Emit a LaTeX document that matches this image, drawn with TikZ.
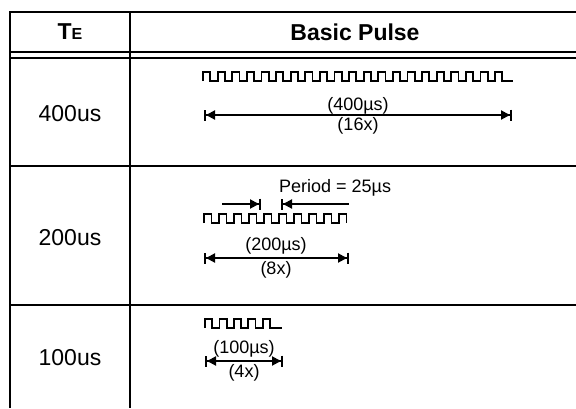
\documentclass[tikz,border=0pt]{standalone}
\usepackage{fontspec}
\setmainfont{Liberation Sans}
\usetikzlibrary{arrows.meta}
\begin{document}
\begin{tikzpicture}[x=1pt,y=-1pt,
  grid/.style={line width=2pt},
  pulse/.style={line width=1.8pt, line join=miter},
  dim/.style={line width=2pt, {Bar[width=11pt]Triangle[length=9pt,width=9pt]}-{Triangle[length=9pt,width=9pt]Bar[width=11pt]}},
  perL/.style={line width=2pt, -{Triangle[length=9pt,width=9pt]Bar[width=11pt]}},
  perR/.style={line width=2pt, {Bar[width=11pt]Triangle[length=9pt,width=9pt]}-},
  lab/.style={font=\fontsize{23}{26}\selectfont, inner sep=0pt},
  small/.style={font=\fontsize{18}{20}\selectfont, inner sep=0pt},
  hdr/.style={font=\bfseries\fontsize{23}{26}\selectfont, inner sep=0pt}]
\useasboundingbox (0,0) rectangle (576,408);
% table
\draw[grid] (10,408) |- (577,12);
\draw[grid] (130,12) -- (130,408);
\draw[grid] (10,52) -- (577,52);
\draw[grid] (10,58) -- (577,58);
\draw[grid] (10,166) -- (577,166);
\draw[grid] (10,305) -- (577,305);
% headers
\node[hdr] (hte) at (70,32) {T\fontsize{16}{18}\selectfont E};
\node[hdr] (hbp) at (355,32) {Basic Pulse};
% row labels
\node[lab] (t400) at (70,114) {400us};
\node[lab] (t200) at (70,238) {200us};
\node[lab] (t100) at (70,358) {100us};
% pulse trains
\draw[pulse] (203,81) \foreach \i in {1,...,21}{ -- ++(0,-9) -- ++(7.3,0) -- ++(0,9) -- ++(7.3,0)} -- (513,81);
\draw[pulse] (204,223) \foreach \i in {1,...,9}{ -- ++(0,-9) -- ++(7.5,0) -- ++(0,9) -- ++(7.5,0)} -- ++(0,-9) -- ++(7.5,0) -- ++(0,9);
\draw[pulse] (205,328) \foreach \i in {1,...,4}{ -- ++(0,-9) -- ++(7.2,0) -- ++(0,9) -- ++(7.2,0)} -- ++(0,-9) -- ++(7.2,0) -- ++(0,9) -- (282,328);
% 400 row dimension
\coordinate (a4l) at (204,115);
\coordinate (a4r) at (512,115);
\draw[dim] (a4l) -- (a4r);
\node[small] (l4a) at (358,106) {(400µs)};
\node[small] (l4b) at (358,126) {(16x)};
% 200 row
\coordinate (p1s) at (222,204);
\coordinate (p1e) at (261,204);
\draw[perL] (p1s) -- (p1e);
\coordinate (p2s) at (281,204);
\coordinate (p2e) at (349,204);
\draw[perR] (p2s) -- (p2e);
\node[small, anchor=west] (per) at (279,188) {Period = 25µs};
\coordinate (a2l) at (204,258);
\coordinate (a2r) at (349,258);
\draw[dim] (a2l) -- (a2r);
\node[small] (l2a) at (276,246) {(200µs)};
\node[small] (l2b) at (276,270) {(8x)};
% 100 row
\coordinate (a1l) at (205,361);
\coordinate (a1r) at (283,361);
\draw[dim] (a1l) -- (a1r);
\node[small] (l1a) at (244,349) {(100µs)};
\node[small] (l1b) at (244,373) {(4x)};
\end{tikzpicture}
\end{document}
